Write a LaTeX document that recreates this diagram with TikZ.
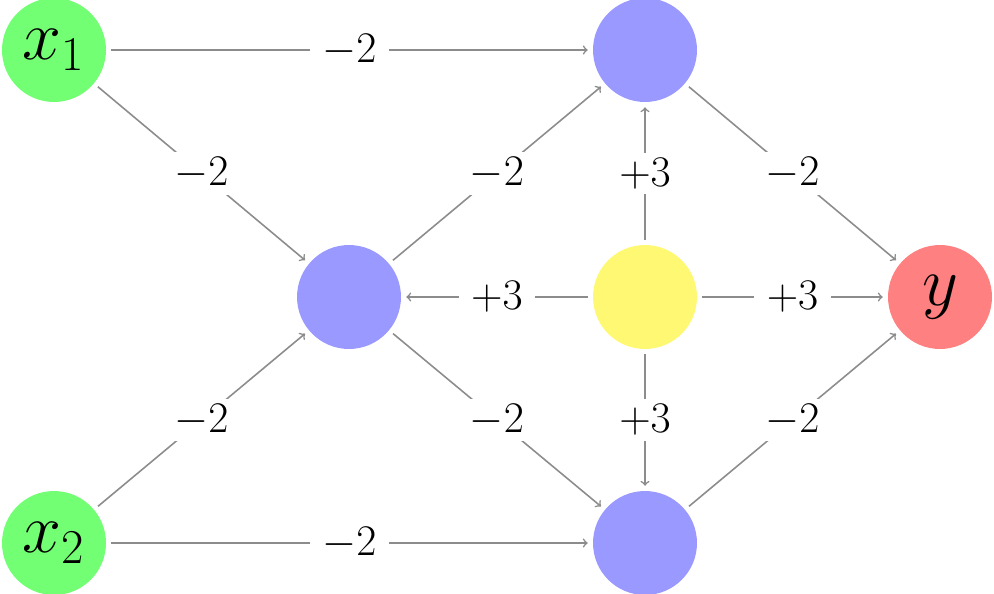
\documentclass[tikz,border=0pt]{standalone}
\usepackage{graphicx}
\begin{document}
\begin{tikzpicture}[x=0.02cm,y=-0.02cm,
  neuron/.style={circle,minimum size=2.08cm,inner sep=0pt,outer sep=3pt},
  big/.style={font=\fontsize{23}{28}\selectfont},
  edge/.style={draw=gray!90,line width=0.9pt,->,>=to},
  lbl/.style={fill=white,inner xsep=7pt,inner ysep=3pt,font=\fontsize{23}{28}\selectfont}]
\useasboundingbox (0,0) rectangle (994,593);
\node[neuron,fill=green!55,big] (x1) at (54,50) {\scalebox{1.6}{$x_1$}};
\node[neuron,fill=green!55,big] (x2) at (54,543) {\scalebox{1.6}{$x_2$}};
\node[neuron,fill=blue!40] (h) at (349,297) {};
\node[neuron,fill=blue!40] (t) at (645,50) {};
\node[neuron,fill=blue!40] (b) at (645,543) {};
\node[neuron,fill=yellow!55] (c) at (645,297) {};
\node[neuron,fill=red!50,big] (y) at (940,297) {\scalebox{1.6}{$y$}};
\path[edge] (x1) -- node[lbl]{$-2$} (t);
\path[edge] (x1) -- node[lbl]{$-2$} (h);
\path[edge] (x2) -- node[lbl]{$-2$} (h);
\path[edge] (x2) -- node[lbl]{$-2$} (b);
\path[edge] (h) -- node[lbl]{$-2$} (t);
\path[edge] (h) -- node[lbl]{$-2$} (b);
\path[edge] (c) -- node[lbl]{$+3$} (h);
\path[edge] (c) -- node[lbl]{$+3$} (t);
\path[edge] (c) -- node[lbl]{$+3$} (b);
\path[edge] (c) -- node[lbl]{$+3$} (y);
\path[edge] (t) -- node[lbl]{$-2$} (y);
\path[edge] (b) -- node[lbl]{$-2$} (y);
\end{tikzpicture}
\end{document}
